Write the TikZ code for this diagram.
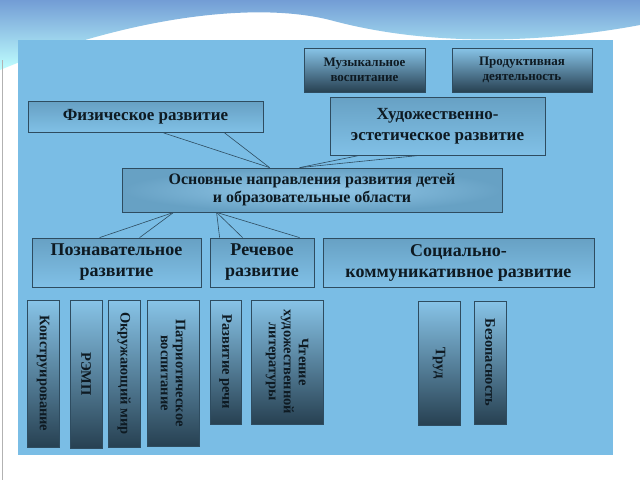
\documentclass[tikz,border=0pt]{standalone}
\usepackage{fontspec}
\setmainfont{Liberation Serif}
\usetikzlibrary{calc}
\definecolor{panel}{HTML}{7ABDE5}
\definecolor{txt}{HTML}{0E1A22}
\definecolor{edge}{HTML}{2E4C60}
\tikzset{
 dark/.style={draw=edge, line width=0.8pt, top color=panel!90!white, bottom color=edge!85!black, text=txt, font=\bfseries, align=center, inner sep=1pt},
 darkv/.style={draw=edge, line width=0.8pt, top color=panel!90!white, bottom color=edge!85!black, text=txt, font=\bfseries, align=center, inner sep=1pt},
 light/.style={draw=edge, line width=0.8pt, top color=panel!75!edge, bottom color=panel!95!white, text=txt, font=\bfseries, align=center, inner sep=1pt},
 mid/.style={draw=edge, line width=0.8pt, inner color=panel!80!white, outer color=panel!75!edge, text=txt, font=\bfseries, align=center, inner sep=1pt},
 conn/.style={draw=edge, line width=0.6pt}
}
\begin{document}
\begin{tikzpicture}[x=1pt,y=-1pt]
\useasboundingbox (0,0) rectangle (640,480);
\fill[white] (0,0) rectangle (640,480);
% decorative swoosh
\shade[top color=teal!60!blue!55, bottom color=cyan!25] (0,0) -- (640,0) -- (640,25) .. controls (560,40) and (440,50) .. (330,20) .. controls (250,0) and (120,20) .. (0,70) -- cycle;
\fill[white] (0,72) .. controls (120,25) and (250,10) .. (330,28) .. controls (440,55) and (560,45) .. (640,28) -- (640,40) -- (0,90) -- cycle;
\draw[gray!60] (2,60) -- (2,480);
% panel
\fill[panel] (18,40) rectangle (613,455);
% boxes
\node[dark, minimum width=121, minimum height=44, font=\bfseries\fontsize{13}{15}\selectfont] (muz) at (364.5,70) {Музыкальное\\воспитание};
\node[dark, minimum width=140, minimum height=44, font=\bfseries\fontsize{13}{15}\selectfont] (prod) at (522,70) {Продуктивная\\деятельность};
\node[light, minimum width=235, minimum height=31, font=\bfseries\fontsize{17}{19}\selectfont] (fiz) at (145.5,117) {Физическое развитие};
\node[light, minimum width=215, minimum height=58, font=\bfseries\fontsize{17}{21}\selectfont] (hud) at (437.5,126) {Художественно-\\эстетическое развитие};
\node[mid, minimum width=380, minimum height=44, font=\bfseries\fontsize{16}{18}\selectfont] (main) at (312,190) {Основные направления развития детей\\и образовательные области};
\node[light, minimum width=169, minimum height=49, font=\bfseries\fontsize{18}{21}\selectfont] (poz) at (116.5,262.5) {Познавательное\\развитие};
\node[light, minimum width=104, minimum height=49, font=\bfseries\fontsize{18}{21}\selectfont] (rech) at (262,262.5) {Речевое\\развитие};
\node[light, minimum width=271, minimum height=49, font=\bfseries\fontsize{18}{21}\selectfont] (soc) at (458.5,262.5) {Социально-\\коммуникативное развитие};
% vertical boxes (shaded box + rotated label)
\tikzset{vf/.style={font=\bfseries\fontsize{14.5}{15}\selectfont, text=txt, align=center, rotate=-90, inner sep=0pt}}
\node[darkv, minimum width=32, minimum height=147] (kon) at (43,373.5) {};
\node[vf] at (kon.center) {Конструирование};
\node[darkv, minimum width=32, minimum height=148] (remp) at (86,374) {};
\node[vf] at (remp.center) {РЭМП};
\node[darkv, minimum width=32, minimum height=147] (okr) at (124,373.5) {};
\node[vf] at (okr.center) {Окружающий мир};
\node[darkv, minimum width=52, minimum height=146] (pat) at (173,373) {};
\node[vf] at (pat.center) {Патриотическое\\воспитание};
\node[darkv, minimum width=31, minimum height=124] (rr) at (225.5,362) {};
\node[vf] at (rr.center) {Развитие речи};
\node[darkv, minimum width=72, minimum height=124] (cht) at (287,362) {};
\node[vf] at (cht.center) {Чтение\\художественной\\литературы};
\node[darkv, minimum width=42, minimum height=124] (trud) at (439,363) {};
\node[vf] at (trud.center) {Труд};
\node[darkv, minimum width=32, minimum height=123] (bez) at (490,362.5) {};
\node[vf] at (bez.center) {Безопасность};
% connectors
\coordinate (top) at ($(main.north west)+(148,0)$);
\draw[conn] ($(fiz.south west)+(136,0)$) -- (top);
\draw[conn] ($(fiz.south west)+(197,0)$) -- (top);
\draw[conn] ($(hud.south west)+(30,0)$) -- ($(main.north west)+(178,0)$);
\draw[conn] ($(hud.south west)+(90,0)$) -- ($(main.north west)+(178,0)$);
\coordinate (b1) at ($(main.south west)+(52,0)$);
\coordinate (b2) at ($(main.south west)+(95,0)$);
\draw[conn] (b1) -- ($(poz.north west)+(68,0)$);
\draw[conn] (b1) -- ($(poz.north west)+(108,0)$);
\draw[conn] (b2) -- ($(rech.north west)+(10,0)$);
\draw[conn] (b2) -- ($(rech.north west)+(33,0)$);
\draw[conn] (b2) -- ($(rech.north west)+(90,0)$);
\end{tikzpicture}
\end{document}
